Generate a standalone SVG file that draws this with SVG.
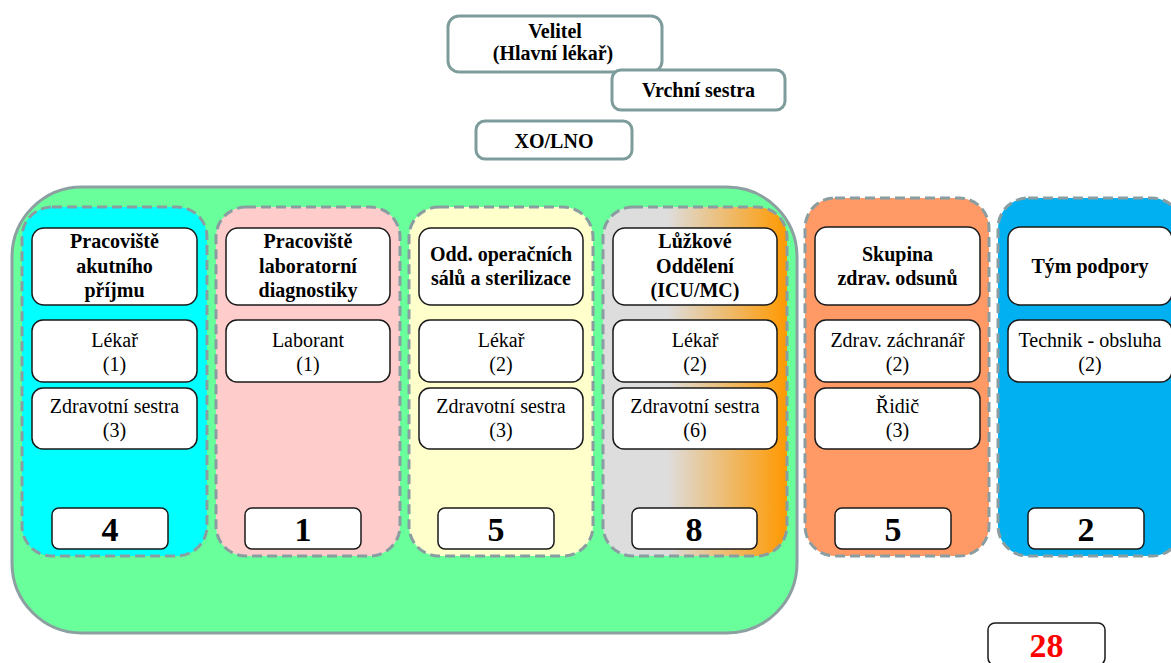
<svg xmlns="http://www.w3.org/2000/svg" width="1171" height="663" viewBox="0 0 1171 663" font-family="'Liberation Serif', 'DejaVu Serif', serif">
  <defs>
    <linearGradient id="gradBed" x1="0" y1="0" x2="1" y2="0">
      <stop offset="0" stop-color="#dddddd"/>
      <stop offset="0.35" stop-color="#dddddd"/>
      <stop offset="1" stop-color="#ff9900"/>
    </linearGradient>
    <style>
      text { font-family: "Liberation Serif", "DejaVu Serif", serif; fill: #000; text-anchor: middle; }
      .bold { font-weight: bold; font-size: 20px; }
      .reg { font-size: 20px; }
      .num { font-weight: bold; font-size: 34px; }
      .top { fill: #fff; stroke: #7f9c9d; stroke-width: 3; }
      .col { stroke: #8a9ea1; stroke-width: 3; stroke-dasharray: 10 5; }
      .box { fill: #fff; stroke: #1a1a1a; stroke-width: 1.5; }
    </style>
  </defs>

  <!-- command staff -->
  <g id="velitel">
    <rect class="top" x="448" y="16" width="214" height="56" rx="11"/>
    <text class="bold" x="555" y="38">Velitel</text>
    <text class="bold" x="553" y="60">(Hlavní lékař)</text>
  </g>
  <g id="vrchni-sestra">
    <rect class="top" x="612" y="70" width="173" height="40" rx="9"/>
    <text class="bold" x="698.5" y="97">Vrchní sestra</text>
  </g>
  <g id="xo-lno">
    <rect class="top" x="476" y="121" width="156" height="38" rx="9"/>
    <text class="bold" x="554" y="148">XO/LNO</text>
  </g>

  <!-- hospital core frame -->
  <g id="core">
    <rect x="12" y="187" width="785" height="446" rx="70" fill="#69ff9b" stroke="#8c9fa1" stroke-width="3"/>
  </g>

  <!-- acute admission -->
  <g id="col-akutni">
    <rect class="col" x="22" y="207" width="185" height="349" rx="30" fill="#00ffff"/>
    <rect class="box" x="32" y="228" width="165" height="77" rx="12"/>
    <text class="bold" x="114.5" y="248">Pracoviště</text>
    <text class="bold" x="114.5" y="273">akutního</text>
    <text class="bold" x="114.5" y="297">příjmu</text>
    <rect class="box" x="32" y="320" width="165" height="62" rx="11"/>
    <text class="reg" x="114.5" y="347">Lékař</text>
    <text class="reg" x="114.5" y="371">(1)</text>
    <rect class="box" x="32" y="388" width="165" height="61" rx="11"/>
    <text class="reg" x="114.5" y="413">Zdravotní sestra</text>
    <text class="reg" x="114.5" y="437">(3)</text>
    <rect class="box" x="52" y="508" width="116" height="41" rx="7"/>
    <text class="num" x="110" y="541">4</text>
  </g>

  <!-- laboratory -->
  <g id="col-laborator">
    <rect class="col" x="216" y="207" width="184" height="349" rx="30" fill="#ffcccc"/>
    <rect class="box" x="226" y="228" width="164" height="77" rx="12"/>
    <text class="bold" x="308" y="248">Pracoviště</text>
    <text class="bold" x="308" y="273">laboratorní</text>
    <text class="bold" x="308" y="297">diagnostiky</text>
    <rect class="box" x="226" y="320" width="164" height="62" rx="11"/>
    <text class="reg" x="308" y="347">Laborant</text>
    <text class="reg" x="308" y="371">(1)</text>
    <rect class="box" x="245" y="508" width="116" height="41" rx="7"/>
    <text class="num" x="303" y="541">1</text>
  </g>

  <!-- operating theatres -->
  <g id="col-operacni">
    <rect class="col" x="409" y="207" width="184" height="349" rx="30" fill="#ffffcc"/>
    <rect class="box" x="419" y="228" width="164" height="77" rx="12"/>
    <text class="bold" x="501" y="261">Odd. operačních</text>
    <text class="bold" x="501" y="285">sálů a sterilizace</text>
    <rect class="box" x="419" y="320" width="164" height="62" rx="11"/>
    <text class="reg" x="501" y="347">Lékař</text>
    <text class="reg" x="501" y="371">(2)</text>
    <rect class="box" x="419" y="388" width="164" height="61" rx="11"/>
    <text class="reg" x="501" y="413">Zdravotní sestra</text>
    <text class="reg" x="501" y="437">(3)</text>
    <rect class="box" x="438" y="508" width="116" height="41" rx="7"/>
    <text class="num" x="496" y="541">5</text>
  </g>

  <!-- ward -->
  <g id="col-luzkove">
    <rect class="col" x="603" y="207" width="184" height="349" rx="30" fill="url(#gradBed)"/>
    <rect class="box" x="613" y="228" width="164" height="77" rx="12"/>
    <text class="bold" x="695" y="248">Lůžkové</text>
    <text class="bold" x="695" y="273">Oddělení</text>
    <text class="bold" x="695" y="297">(ICU/MC)</text>
    <rect class="box" x="613" y="320" width="164" height="62" rx="11"/>
    <text class="reg" x="695" y="347">Lékař</text>
    <text class="reg" x="695" y="371">(2)</text>
    <rect class="box" x="613" y="388" width="164" height="61" rx="11"/>
    <text class="reg" x="695" y="413">Zdravotní sestra</text>
    <text class="reg" x="695" y="437">(6)</text>
    <rect class="box" x="632" y="508" width="125" height="41" rx="7"/>
    <text class="num" x="694" y="541">8</text>
  </g>

  <!-- medical evacuation -->
  <g id="col-odsun">
    <rect class="col" x="805" y="198" width="184" height="358" rx="30" fill="#ff9966"/>
    <rect class="box" x="815" y="227" width="165" height="78" rx="12"/>
    <text class="bold" x="897.5" y="261">Skupina</text>
    <text class="bold" x="897.5" y="285">zdrav. odsunů</text>
    <rect class="box" x="815" y="320" width="165" height="62" rx="11"/>
    <text class="reg" x="897.5" y="347">Zdrav. záchranář</text>
    <text class="reg" x="897.5" y="371">(2)</text>
    <rect class="box" x="815" y="388" width="165" height="61" rx="11"/>
    <text class="reg" x="897.5" y="413">Řidič</text>
    <text class="reg" x="897.5" y="437">(3)</text>
    <rect class="box" x="835" y="508" width="116" height="41" rx="7"/>
    <text class="num" x="893" y="541">5</text>
  </g>

  <!-- support team -->
  <g id="col-podpora">
    <rect class="col" x="998" y="198" width="184" height="358" rx="30" fill="#00b0f0"/>
    <rect class="box" x="1008" y="227" width="164" height="78" rx="12"/>
    <text class="bold" x="1090" y="273">Tým podpory</text>
    <rect class="box" x="1008" y="320" width="164" height="62" rx="11"/>
    <text class="reg" x="1090" y="347">Technik - obsluha</text>
    <text class="reg" x="1090" y="371">(2)</text>
    <rect class="box" x="1028" y="508" width="116" height="41" rx="7"/>
    <text class="num" x="1086" y="541">2</text>
  </g>

  <!-- grand total -->
  <g id="total">
    <rect class="box" x="988" y="623" width="117" height="42" rx="7"/>
    <text class="num" x="1046.5" y="657" style="fill:#ff0000">28</text>
  </g>

  <g id="connectors"/>
</svg>
